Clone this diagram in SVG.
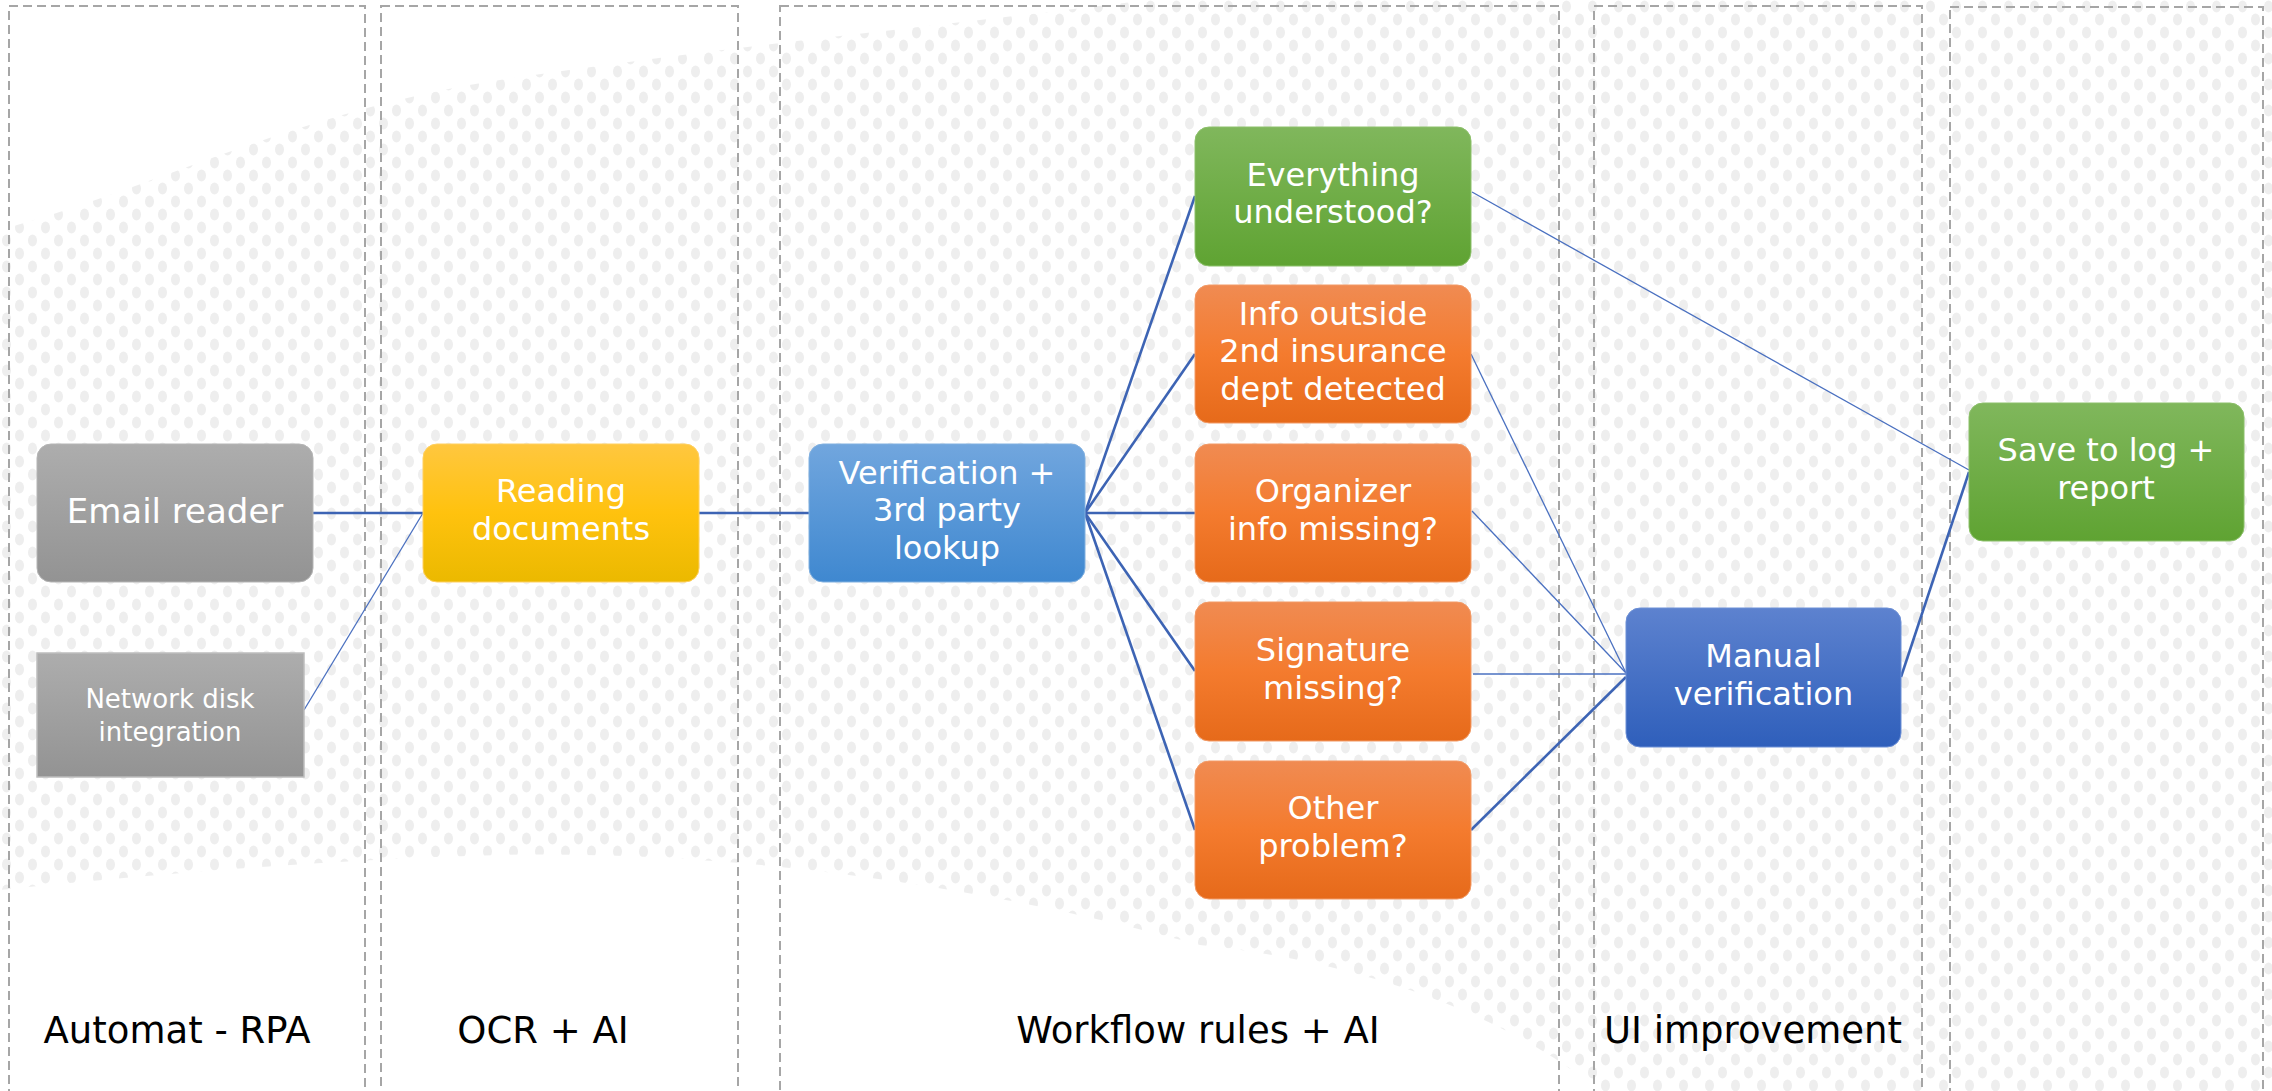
<svg xmlns="http://www.w3.org/2000/svg" width="2272" height="1091" viewBox="0 0 2272 1091">
<defs>
<pattern id="dots" width="26" height="26" patternUnits="userSpaceOnUse">
<ellipse cx="6.5" cy="6.5" rx="4.5" ry="6" fill="#eeeeee"/>
<ellipse cx="19.5" cy="19.5" rx="4.5" ry="6" fill="#eeeeee"/>
</pattern>
<linearGradient id="gGray" x1="0" y1="0" x2="0" y2="1"><stop offset="0" stop-color="#adadad"/><stop offset="1" stop-color="#939393"/></linearGradient>
<linearGradient id="gYellow" x1="0" y1="0" x2="0" y2="1"><stop offset="0" stop-color="#ffc73f"/><stop offset="0.5" stop-color="#ffc20e"/><stop offset="1" stop-color="#ebb900"/></linearGradient>
<linearGradient id="gBlue" x1="0" y1="0" x2="0" y2="1"><stop offset="0" stop-color="#71a6de"/><stop offset="1" stop-color="#3f88d0"/></linearGradient>
<linearGradient id="gGreen" x1="0" y1="0" x2="0" y2="1"><stop offset="0" stop-color="#80b75c"/><stop offset="1" stop-color="#5fa332"/></linearGradient>
<linearGradient id="gOrange" x1="0" y1="0" x2="0" y2="1"><stop offset="0" stop-color="#f08b52"/><stop offset="0.5" stop-color="#f47b2e"/><stop offset="1" stop-color="#e66a1a"/></linearGradient>
<linearGradient id="gDark" x1="0" y1="0" x2="0" y2="1"><stop offset="0" stop-color="#5d82cf"/><stop offset="1" stop-color="#2f5fbb"/></linearGradient>
<style>
.col{fill:none;stroke:#a6a6a6;stroke-width:2;stroke-dasharray:9 5}
.nt{fill:#ffffff;font-family:"DejaVu Sans",sans-serif;font-size:32px;text-anchor:middle}
.st{fill:#ffffff;font-family:"DejaVu Sans",sans-serif;font-size:26px;text-anchor:middle}
.lb{fill:#000000;font-family:"DejaVu Sans",sans-serif;font-size:37px;text-anchor:middle}
.thick{stroke:#3d64b4;stroke-width:2.6;fill:none}
.thin{stroke:#4a70c0;stroke-width:1.3;fill:none}
</style>
</defs>
<rect width="2272" height="1091" fill="#ffffff"/>
<path d="M0,230 C150,190 300,110 500,80 C700,50 900,30 1150,0 L2272,0 L2272,1091 L1600,1091 C1500,1010 1350,960 1200,945 C1000,890 750,850 500,855 C300,860 100,880 0,890 Z" fill="url(#dots)"/>
<g id="columns">
<rect class="col" x="9" y="6" width="356" height="1100"/>
<rect class="col" x="381" y="6" width="357" height="1100"/>
<rect class="col" x="780" y="6" width="779" height="1100"/>
<rect class="col" x="1594" y="6" width="328" height="1100"/>
<rect class="col" x="1950" y="7" width="313" height="1100"/>
</g>
<g id="connectors">
<line class="thick" x1="313" y1="513" x2="423" y2="513"/>
<line class="thin" x1="304" y1="710" x2="423" y2="513"/>
<line class="thick" x1="699" y1="513" x2="809" y2="513"/>
<line class="thick" x1="1085" y1="513" x2="1195" y2="196"/>
<line class="thick" x1="1085" y1="513" x2="1195" y2="354"/>
<line class="thick" x1="1085" y1="513" x2="1195" y2="513"/>
<line class="thick" x1="1085" y1="513" x2="1195" y2="671"/>
<line class="thick" x1="1085" y1="513" x2="1195" y2="830"/>
<line class="thin" x1="1472" y1="192" x2="1969" y2="470"/>
<line class="thin" x1="1471" y1="354" x2="1626" y2="673"/>
<line class="thin" x1="1472" y1="511" x2="1626" y2="673"/>
<line class="thin" x1="1473" y1="674" x2="1626" y2="674"/>
<line class="thick" x1="1471" y1="830" x2="1626" y2="677"/>
<line class="thick" x1="1901" y1="677" x2="1969" y2="472"/>
</g>
<g id="email-reader">
<rect x="37" y="444" width="276" height="138" rx="14" fill="url(#gGray)" stroke="#b5b5b5" stroke-width="1"/>
<text class="nt" x="175" y="523" style="font-size:34px">Email reader</text>
</g>
<g id="network-disk">
<rect x="37" y="653" width="267" height="124" fill="url(#gGray)" stroke="#bdbdbd" stroke-width="1.5"/>
<text class="st"><tspan x="170" y="708">Network disk</tspan><tspan x="170" y="741">integration</tspan></text>
</g>
<g id="reading-documents">
<rect x="423" y="444" width="276" height="138" rx="14" fill="url(#gYellow)" stroke="#ffd060" stroke-width="1"/>
<text class="nt"><tspan x="561" y="502">Reading</tspan><tspan x="561" y="540">documents</tspan></text>
</g>
<g id="verification">
<rect x="809" y="444" width="276" height="138" rx="14" fill="url(#gBlue)" stroke="#80b0e0" stroke-width="1"/>
<text class="nt"><tspan x="947" y="483.5">Verification +</tspan><tspan x="947" y="521">3rd party</tspan><tspan x="947" y="558.5">lookup</tspan></text>
</g>
<g id="everything-understood">
<rect x="1195" y="127" width="276" height="139" rx="14" fill="url(#gGreen)" stroke="#8cc06a" stroke-width="1"/>
<text class="nt"><tspan x="1333" y="185.5">Everything</tspan><tspan x="1333" y="223">understood?</tspan></text>
</g>
<g id="info-outside">
<rect x="1195" y="285" width="276" height="138" rx="14" fill="url(#gOrange)" stroke="#f29a66" stroke-width="1"/>
<text class="nt"><tspan x="1333" y="324.5">Info outside</tspan><tspan x="1333" y="362">2nd insurance</tspan><tspan x="1333" y="399.5">dept detected</tspan></text>
</g>
<g id="organizer-missing">
<rect x="1195" y="444" width="276" height="138" rx="14" fill="url(#gOrange)" stroke="#f29a66" stroke-width="1"/>
<text class="nt"><tspan x="1333" y="502">Organizer</tspan><tspan x="1333" y="540">info missing?</tspan></text>
</g>
<g id="signature-missing">
<rect x="1195" y="602" width="276" height="139" rx="14" fill="url(#gOrange)" stroke="#f29a66" stroke-width="1"/>
<text class="nt"><tspan x="1333" y="661">Signature</tspan><tspan x="1333" y="698.5">missing?</tspan></text>
</g>
<g id="other-problem">
<rect x="1195" y="761" width="276" height="138" rx="14" fill="url(#gOrange)" stroke="#f29a66" stroke-width="1"/>
<text class="nt"><tspan x="1333" y="819">Other</tspan><tspan x="1333" y="856.5">problem?</tspan></text>
</g>
<g id="manual-verification">
<rect x="1626" y="608" width="275" height="139" rx="14" fill="url(#gDark)" stroke="#6d90d6" stroke-width="1"/>
<text class="nt"><tspan x="1763.5" y="667">Manual</tspan><tspan x="1763.5" y="704.5">verification</tspan></text>
</g>
<g id="save-log">
<rect x="1969" y="403" width="275" height="138" rx="14" fill="url(#gGreen)" stroke="#8cc06a" stroke-width="1"/>
<text class="nt"><tspan x="2106" y="461">Save to log +</tspan><tspan x="2106" y="498.5">report</tspan></text>
</g>
<g id="labels">
<text class="lb" x="177" y="1043">Automat - RPA</text>
<text class="lb" x="543" y="1043">OCR + AI</text>
<text class="lb" x="1198" y="1043">Workflow rules + AI</text>
<text class="lb" x="1753" y="1043">UI improvement</text>
</g>
</svg>
